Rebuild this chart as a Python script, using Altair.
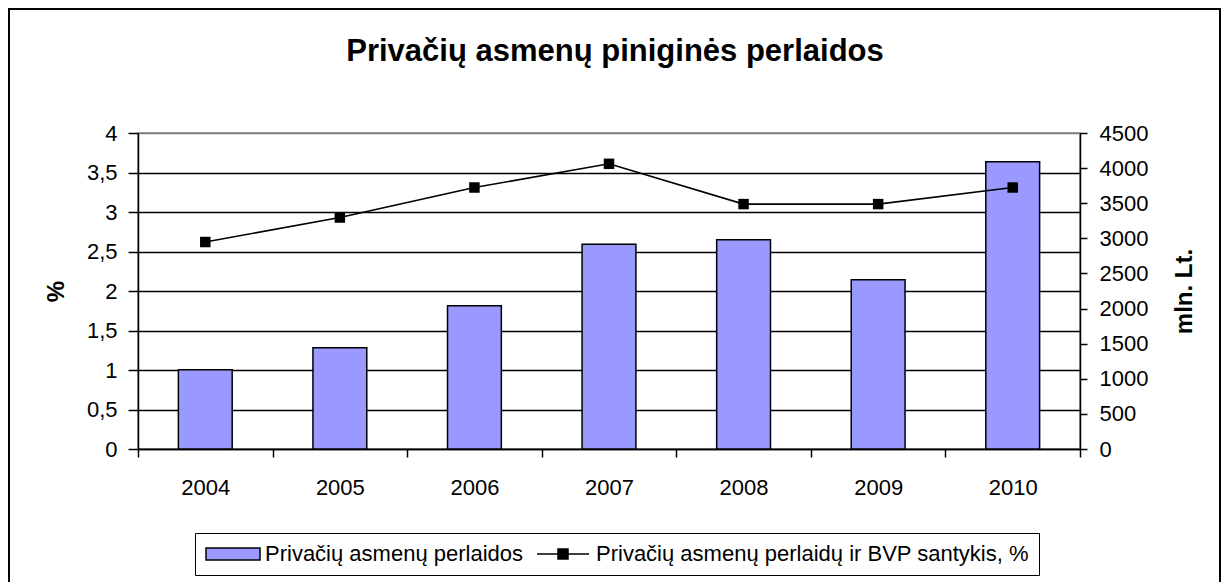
import altair as alt
import pandas as pd

# ---- data ----
years = ["2004", "2005", "2006", "2007", "2008", "2009", "2010"]
transfers = [1130, 1443, 2040, 2915, 2980, 2410, 4090]   # mln. Lt. (bars, right axis)
ratio = [2.62, 2.93, 3.31, 3.61, 3.10, 3.10, 3.31]        # % (line, left axis)
series = ["Privačių asmenų perlaidos", "Privačių asmenų perlaidų ir BVP santykis, %"]
left_ticks = [0, 0.5, 1, 1.5, 2, 2.5, 3, 3.5, 4]
right_ticks = [0, 500, 1000, 1500, 2000, 2500, 3000, 3500, 4000, 4500]
title_text = "Privačių asmenų piniginės perlaidos"

FONT = "Liberation Sans"
BAR_FILL = "#9999FF"

df = pd.DataFrame({"year": years, "transfers": transfers, "ratio": ratio})
leg_df = pd.DataFrame({"series": series})
frame_df = pd.DataFrame({"k": [0]})

x_enc = alt.X(
    "year:N",
    sort=years,
    scale=alt.Scale(paddingInner=0, paddingOuter=0),
    axis=alt.Axis(title=None, labelAngle=0, tickBand="extent", tickSize=8,
                  labelPadding=20, grid=False),
)

bars = alt.Chart(df).mark_bar(
    width={"band": 0.4}, fill=BAR_FILL, stroke="black", strokeWidth=1.5
).encode(
    x=x_enc,
    y=alt.Y(
        "transfers:Q",
        scale=alt.Scale(domain=[0, 4500], nice=False),
        axis=alt.Axis(orient="right", values=right_ticks, format="d",
                      title="mln. Lt.", titleAngle=270, titleBaseline="top",
                      titlePadding=25, tickSize=7, labelPadding=12,
                      grid=False, labelOverlap=False),
    ),
)

line = alt.Chart(df).mark_line(
    color="black", strokeWidth=1.6,
    point=alt.OverlayMarkDef(shape="square", size=110, filled=True, color="black"),
).encode(
    x=x_enc,
    y=alt.Y(
        "ratio:Q",
        scale=alt.Scale(domain=[0, 4], nice=False),
        axis=alt.Axis(orient="left", values=left_ticks,
                      labelExpr="replace(toString(datum.value), '.', ',')",
                      title="%", titlePadding=18, tickSize=10, labelPadding=11,
                      grid=True, gridWidth=1.4,
                      gridColor={"condition": {"test": "datum.value == 4", "value": "#808080"},
                                 "value": "black"},
                      labelOverlap=False),
    ),
)

bar_sym = "M-1,-0.6H4.4V0.6H-1Z"
line_sym = "M-1,0H4.2M1.1,-0.5H2.1V0.5H1.1Z"

legend_def = alt.Legend(
    title=None, orient="none", legendX=57, legendY=400, direction="horizontal",
    symbolSize=400, symbolStrokeWidth=1.5, symbolOpacity=1,
    labelFont=FONT, labelFontSize=22, labelColor="black", labelOffset=38, labelLimit=0,
    columnPadding=10, padding=10, strokeColor="black", fillColor="white",
)

leg = alt.Chart(leg_df).mark_point(opacity=0).encode(
    fill=alt.Fill("series:N", sort=series,
                  scale=alt.Scale(domain=series, range=[BAR_FILL, "black"]),
                  legend=legend_def),
    stroke=alt.Stroke("series:N", sort=series,
                      scale=alt.Scale(domain=series, range=["black", "black"]),
                      legend=legend_def),
    shape=alt.Shape("series:N", sort=series,
                    scale=alt.Scale(domain=series, range=[bar_sym, line_sym]),
                    legend=legend_def),
)

frame = alt.Chart(frame_df).mark_rect(
    fillOpacity=0, stroke="black", strokeWidth=2
).encode(
    x=alt.value(-129), x2=alt.value(1082), y=alt.value(-124), y2=alt.value(470)
)

chart = alt.layer(bars, line, leg, frame).resolve_scale(
    y="independent"
).properties(
    width=942,
    height=316,
    autosize=alt.AutoSizeParams(type="none"),
    padding={"left": 130, "top": 125, "right": 141, "bottom": 133},
    background="white",
    title=alt.TitleParams(title_text, font=FONT, fontSize=31, fontWeight="bold",
                          color="black", anchor="middle", frame="group",
                          baseline="alphabetic", offset=0, dy=84, dx=6),
).configure_view(
    fill="#C0C0C0", stroke="#808080", strokeWidth=1.5
).configure_axis(
    labelFont=FONT, labelFontSize=22, labelColor="black",
    titleFont=FONT, titleFontSize=24, titleFontWeight="bold", titleColor="black",
    domainColor="black", tickColor="black", domainWidth=1.5, tickWidth=1.5,
)

chart.save("out.html", embed_options={"renderer": "svg", "actions": False})
